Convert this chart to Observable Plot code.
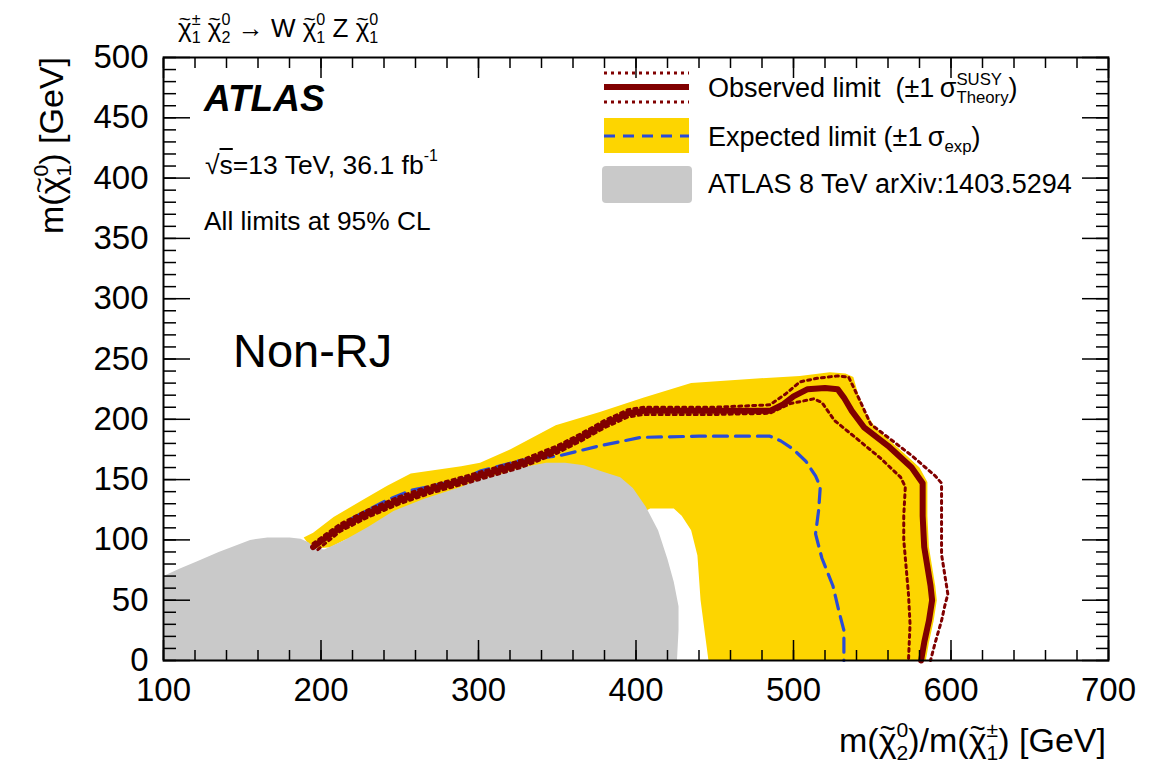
<!DOCTYPE html>
<html><head><meta charset="utf-8">
<script src="https://cdn.jsdelivr.net/npm/d3@7"></script>
<script src="https://cdn.jsdelivr.net/npm/@observablehq/plot@0.6"></script>
<style>
body{margin:0;background:#fff}
#wrap{position:relative;width:1163px;height:768px;font-family:"Liberation Sans",Arial,Helvetica,sans-serif;color:#000;overflow:hidden}
#wrap svg.plot{position:absolute;left:0;top:0}
.lbl{position:absolute;white-space:nowrap;line-height:2}
.ss{display:inline-flex;flex-direction:column;font-size:.62em;line-height:1.1;vertical-align:.72em;text-align:left}
.sb{font-size:.62em;vertical-align:-.35em}
.chi{position:relative;display:inline-block;line-height:1}
.chi::after{content:"~";position:absolute;left:0;right:0;text-align:center;top:-.3em;font-size:.8em;line-height:1}
</style></head>
<body><div id="wrap"></div>
<script>
// ---------------- data (GeV) ----------------
// ATLAS 8 TeV excluded region (grey)
const grayX = [100,100,110,121,135,155,166,180,187,192,196,202,215,230,246,265,289,301,315,327,343,355,367,378,390,398,406,414,420,424,427,427,426];
const grayY = [0,70,76,82,90,100,102,102,101,98,93,92,100,111,124,134,144,151,155,160,164,164,162,157,152,143,128,108,84,65,45,25,0];
// expected limit +-1 sigma band (yellow)
const bandX = [189,195,208,225,242,257,289,301,320,349,377,405,435,479,504,523,533,538,541,546,552,570,580,585,585,586,590,591,589,586,584,446,441,439,435,429,424,409,400,350,300,250,215,206,198,193];
const bandY = [102,106,119,132,145,155,161,164,175,195,206,218,230,234,236,239,238,235,221,205,193,172,160,148,120,94,62,50,33,15,0,0,50,87,108,120,126,126,120,120,120,115,100,94,93,95];
// expected limit (blue dashed)
const expX = [220,230,242,257,289,301,327,352,377,403,440,485,492,500,508,514,517,516,514,518,525,529,532,532];
const expY = [118,125,133,141,150,157,166,170,178,185,186,186,182,175,165,153,144,125,105,85,62,40,25,0];
// observed limit (solid dark red)
const obsX = [195,200,212,230,250,270,295,327,350,365,380,395,405,420,450,485,493,500,509,520,528,532,537,545,560,575,582,582,583,587,588,586,583,581];
const obsY = [94,99,110,122,133,142,151,163,175,185,196,205,207,207,207,207,212,219,225,226,225,218,207,193,178,160,147,120,94,62,50,33,15,0];
// observed +1 sigma theory (dotted)
const obsUpX = [195,212,230,250,270,295,327,350,365,380,395,405,450,485,495,504,515,528,535,542,549,560,575,590,594,594,594,598,596,594,590,587];
const obsUpY = [97,113,125,136,145,154,166,178,188,199,208,210,210,212,221,231,234,236,235,216,196,185,170,153,147,120,88,55,45,33,15,0];
// observed -1 sigma theory (dotted)
const obsDnX = [198,212,230,250,270,295,327,350,365,380,395,405,450,485,498,513,518,526,542,555,568,571,570,570,573,574,573];
const obsDnY = [92,107,119,130,139,148,160,172,182,193,202,204,204,205,213,217,214,199,182,168,152,144,120,100,55,30,0];
// axis ticks
const xMajor = [100,200,300,400,500,600,700];
const xMinor = d3.range(100, 701, 20);
const yMajor = [0,50,100,150,200,250,300,350,400,450,500];
const yMinor = d3.range(0, 501, 10);

const pts = (X, Y) => X.map((x, i) => ({x, y: Y[i]}));
const RED = "#800000", BLUE = "#2a4bd7", GOLD = "#fdd500", GREY = "#c9c9c9";

const plot = Plot.plot({
  width: 1163, height: 768,
  marginLeft: 163, marginRight: 55, marginTop: 57, marginBottom: 108,
  x: {domain: [100, 700]},
  y: {domain: [0, 500]},
  style: {fontFamily: '"Liberation Sans", Arial, sans-serif', fontSize: "33px", background: "transparent", color: "#000"},
  marks: [
    Plot.line(pts(bandX, bandY), {x: "x", y: "y", fill: GOLD, stroke: "none", curve: "linear-closed"}),
    Plot.line(pts(grayX, grayY), {x: "x", y: "y", fill: GREY, stroke: "none", curve: "linear-closed"}),
    Plot.line(pts(expX, expY), {x: "x", y: "y", stroke: BLUE, strokeWidth: 3.2, strokeDasharray: "14,8"}),
    Plot.line(pts(obsUpX, obsUpY), {x: "x", y: "y", stroke: RED, strokeWidth: 3, strokeDasharray: "3,4"}),
    Plot.line(pts(obsDnX, obsDnY), {x: "x", y: "y", stroke: RED, strokeWidth: 3, strokeDasharray: "3,4"}),
    Plot.line(pts(obsX, obsY), {x: "x", y: "y", stroke: RED, strokeWidth: 6, strokeLinejoin: "round"}),
    // inward ticks on all four sides
    Plot.axisX({anchor: "bottom", ticks: xMinor, tickSize: -10, tickFormat: () => "", label: null, strokeWidth: 1.5}),
    Plot.axisX({anchor: "bottom", ticks: xMajor, tickSize: -20, tickFormat: () => "", label: null, strokeWidth: 1.5}),
    Plot.axisX({anchor: "top", ticks: xMinor, tickSize: -10, tickFormat: () => "", label: null, strokeWidth: 1.5}),
    Plot.axisX({anchor: "top", ticks: xMajor, tickSize: -20, tickFormat: () => "", label: null, strokeWidth: 1.5}),
    Plot.axisY({anchor: "left", ticks: yMinor, tickSize: -13, tickFormat: () => "", label: null, strokeWidth: 1.5}),
    Plot.axisY({anchor: "left", ticks: yMajor, tickSize: -27, tickFormat: () => "", label: null, strokeWidth: 1.5}),
    Plot.axisY({anchor: "right", ticks: yMinor, tickSize: -13, tickFormat: () => "", label: null, strokeWidth: 1.5}),
    Plot.axisY({anchor: "right", ticks: yMajor, tickSize: -27, tickFormat: () => "", label: null, strokeWidth: 1.5}),
    // tick labels
    Plot.axisX({anchor: "bottom", ticks: xMajor, tickSize: 0, tickPadding: 17, fontSize: 33, tickFormat: d => String(d), label: null}),
    Plot.axisY({anchor: "left", ticks: yMajor, tickSize: 0, tickPadding: 15, fontSize: 33, tickFormat: d => String(d), label: null}),
    Plot.frame({stroke: "#000", strokeWidth: 2})
  ]
});
plot.classList.add("plot");
const wrap = document.getElementById("wrap");
wrap.appendChild(plot);

// ---------------- annotations ----------------
const chi = `<span class="chi">\u03C7</span>`;
const ss = (a, b) => `<span class="ss"><span>${a}</span><span>${b}</span></span>`;
function place(html, x, base, size, o = {}) {
  const d = document.createElement("div");
  d.className = "lbl";
  d.style.fontSize = size + "px";
  d.style.top = (base - 1.3465 * size) + "px";
  if (o.right != null) d.style.right = (1163 - o.right) + "px"; else d.style.left = x + "px";
  if (o.css) d.style.cssText += o.css;
  d.innerHTML = html;
  wrap.appendChild(d);
  return d;
}
place(`${chi}${ss("&plusmn;", "1")} ${chi}${ss("0", "2")} &rarr; W ${chi}${ss("0", "1")} Z ${chi}${ss("0", "1")}`, 178, 37, 26);
place(`ATLAS`, 204, 112, 37, {css: "font-weight:bold;font-style:italic;"});
place(`&radic;<span style="text-decoration:overline">s</span>=13 TeV, 36.1 fb<span style="font-size:.6em;vertical-align:.8em">-1</span>`, 205, 175, 26.5);
place(`All limits at 95% CL`, 204, 230, 26.3);
place(`Non-RJ`, 233, 367, 47);
// axis titles
place(`m(${chi}${ss("0", "2")})/m(${chi}${ss("&plusmn;", "1")}) [GeV]`, 0, 752, 34, {right: 1106});
const yt = place(`m(${chi}${ss("0", "1")}) [GeV]`, 17, 0, 34);
yt.style.top = "57px";
yt.style.transformOrigin = "0 0";
yt.style.transform = "rotate(-90deg) translateX(-100%)";

// legend
place(`Observed limit&nbsp; (&plusmn;1&thinsp;&sigma;${ss("SUSY", "Theory")})`, 708, 97, 27);
place(`Expected limit (&plusmn;1&thinsp;&sigma;<span class="sb">exp</span>)`, 708, 146, 27);
place(`ATLAS 8 TeV arXiv:1403.5294`, 708, 193, 27);
const ns = "http://www.w3.org/2000/svg";
const lg = document.createElementNS(ns, "svg");
lg.setAttribute("width", 1163); lg.setAttribute("height", 768);
lg.style.cssText = "position:absolute;left:0;top:0;pointer-events:none";
lg.innerHTML = `
<line x1="604" x2="689" y1="73" y2="73" stroke="${RED}" stroke-width="3" stroke-dasharray="3,4"/>
<line x1="604" x2="689" y1="87" y2="87" stroke="${RED}" stroke-width="6"/>
<line x1="604" x2="689" y1="102" y2="102" stroke="${RED}" stroke-width="3" stroke-dasharray="3,4"/>
<rect x="604" y="118" width="85" height="35" fill="${GOLD}"/>
<line x1="604" x2="689" y1="136" y2="136" stroke="${BLUE}" stroke-width="3" stroke-dasharray="11,8"/>
<rect x="602" y="166" width="90" height="37" rx="4" fill="${GREY}"/>`;
wrap.appendChild(lg);
</script>
</body></html>
